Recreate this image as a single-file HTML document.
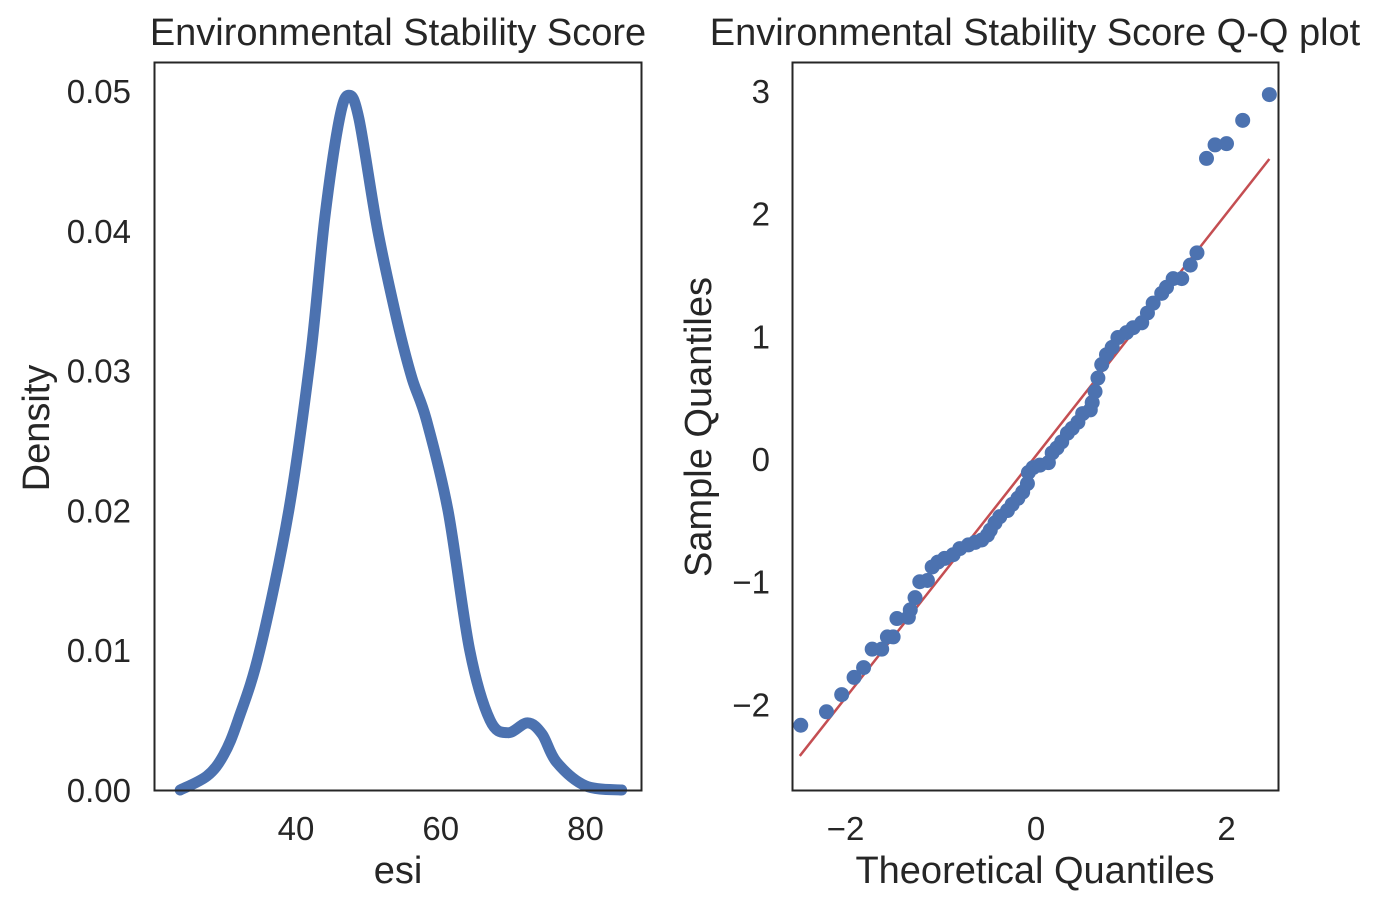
<!DOCTYPE html>
<html><head><meta charset="utf-8"><style>
body{margin:0;background:#fff}
svg{display:block;font-family:"Liberation Sans",Arial,sans-serif;fill:#262626}
</style></head><body>
<svg id="fig" width="1382" height="909" viewBox="0 0 1382 909" xmlns="http://www.w3.org/2000/svg">
<g id="left"></g>
<g id="right"></g>
</svg>
<script>
const kdeX=[24,27.7,30,32,35,39,42,44,46,47.3,48.7,51.3,54,56,58,61,64,66.8,69.3,72,74,76,80,85];
const kdeY=[0,0.001,0.0025,0.005,0.01,0.02,0.031,0.041,0.048,0.0497,0.048,0.04,0.0335,0.0295,0.0265,0.02,0.01,0.005,0.0041,0.0048,0.004,0.002,0.0003,0];
const leftXTicks=[40,60,80];
const leftYTicks=[0,0.01,0.02,0.03,0.04,0.05];
const qqTheo=[-2.47,-2.20,-2.04,-1.91,-1.81,-1.72,-1.62,-1.56,-1.50,-1.46,-1.34,-1.32,-1.27,-1.22,-1.14,-1.09,-1.03,-0.96,-0.87,-0.80,-0.71,-0.64,-0.57,-0.51,-0.48,-0.43,-0.38,-0.30,-0.25,-0.19,-0.14,-0.09,-0.08,-0.03,0.04,0.13,0.17,0.22,0.27,0.33,0.38,0.44,0.49,0.57,0.59,0.62,0.65,0.69,0.74,0.80,0.86,0.95,1.02,1.11,1.17,1.23,1.32,1.37,1.44,1.53,1.62,1.69,1.79,1.88,2.00,2.17,2.45];
const qqSample=[-2.17,-2.06,-1.92,-1.78,-1.70,-1.55,-1.55,-1.45,-1.45,-1.30,-1.29,-1.23,-1.13,-1.00,-0.99,-0.88,-0.84,-0.81,-0.78,-0.73,-0.70,-0.68,-0.66,-0.62,-0.58,-0.52,-0.47,-0.42,-0.37,-0.32,-0.27,-0.20,-0.11,-0.07,-0.05,-0.03,0.05,0.09,0.14,0.21,0.25,0.30,0.37,0.40,0.46,0.55,0.66,0.77,0.85,0.91,0.99,1.03,1.07,1.11,1.19,1.27,1.35,1.40,1.47,1.47,1.58,1.68,2.45,2.56,2.57,2.76,2.97];
const qqLineX=[-2.48,2.45];
const qqLineY=[-2.42,2.445];
const qqXTicks=[-2,0,2];
const qqYTicks=[-2,-1,0,1,2,3];

const NS="http://www.w3.org/2000/svg";
function mk(parent,tag,attrs,text){const e=document.createElementNS(NS,tag);for(const k in attrs)e.setAttribute(k,attrs[k]);if(text!==undefined)e.textContent=text;parent.appendChild(e);return e;}
const FS=33, LS=38;
function smooth(pts){let d='M'+pts[0][0].toFixed(1)+','+pts[0][1].toFixed(1);
for(let i=0;i<pts.length-1;i++){const p0=pts[Math.max(0,i-1)],p1=pts[i],p2=pts[i+1],p3=pts[Math.min(pts.length-1,i+2)];
const c1=[p1[0]+(p2[0]-p0[0])/6,p1[1]+(p2[1]-p0[1])/6],c2=[p2[0]-(p3[0]-p1[0])/6,p2[1]-(p3[1]-p1[1])/6];
d+='C'+c1.map(v=>v.toFixed(1)).join(',')+' '+c2.map(v=>v.toFixed(1)).join(',')+' '+p2.map(v=>v.toFixed(1)).join(',');}
return d;}

// Left panel
const L=document.getElementById('left');
const lx=v=>296+(v-40)*7.2375, ly=v=>790-v*13980;
const curve=mk(L,'path',{d:smooth(kdeX.map((v,i)=>[lx(v),ly(kdeY[i])])),fill:'none',stroke:'#4c72b0','stroke-width':11,'stroke-linejoin':'round','stroke-linecap':'round'});


leftXTicks.forEach(t=>{const e=mk(L,'text',{x:lx(t),y:840,'text-anchor':'middle','font-size':FS},String(t));

});
leftYTicks.forEach(t=>{const e=mk(L,'text',{x:131,y:ly(t)+12,'text-anchor':'end','font-size':FS},t.toFixed(2));

});
let f=mk(L,'rect',{x:154.5,y:62.5,width:487,height:728,fill:'none',stroke:'#262626','stroke-width':2});


let t1=mk(L,'text',{x:398,y:45,'text-anchor':'middle','font-size':LS},'Environmental Stability Score');


let xl=mk(L,'text',{x:398,y:883,'text-anchor':'middle','font-size':LS},'esi');


let yl=mk(L,'text',{x:0,y:0,'text-anchor':'middle','font-size':LS,transform:'translate(49,428) rotate(-90)'},'Density');



// Right panel
const R=document.getElementById('right');
const rx=v=>1036+v*95.25, ry=v=>459-v*122.7;
let ln=mk(R,'line',{x1:rx(qqLineX[0]),y1:ry(qqLineY[0]),x2:rx(qqLineX[1]),y2:ry(qqLineY[1]),stroke:'#c44e52','stroke-width':2.5});


qqTheo.forEach((v,i)=>{const c=mk(R,'circle',{cx:rx(v),cy:ry(qqSample[i]),r:7.5,fill:'#4c72b0'});

});
qqXTicks.forEach(t=>{const e=mk(R,'text',{x:rx(t),y:840,'text-anchor':'middle','font-size':FS},t<0?'\u2212'+Math.abs(t):String(t));

});
qqYTicks.forEach(t=>{const e=mk(R,'text',{x:770,y:ry(t)+12,'text-anchor':'end','font-size':FS},t<0?'\u2212'+Math.abs(t):String(t));

});
let f2=mk(R,'rect',{x:792.5,y:62.5,width:486,height:728,fill:'none',stroke:'#262626','stroke-width':2});


let t2=mk(R,'text',{x:1035,y:45,'text-anchor':'middle','font-size':LS},'Environmental Stability Score Q-Q plot');


let xl2=mk(R,'text',{x:1035,y:883,'text-anchor':'middle','font-size':LS},'Theoretical Quantiles');


let yl2=mk(R,'text',{x:0,y:0,'text-anchor':'middle','font-size':LS,transform:'translate(711,427) rotate(-90)'},'Sample Quantiles');


</script>
</body></html>
